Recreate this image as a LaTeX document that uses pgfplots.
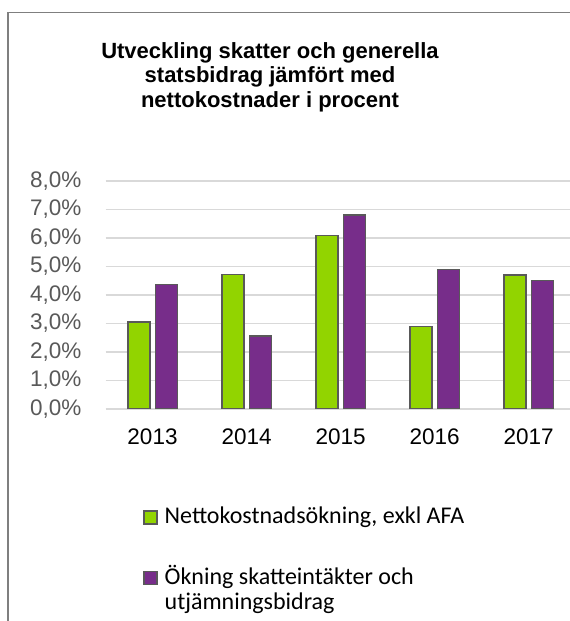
\documentclass[border=0pt]{standalone}
\usepackage{pgfplots}
\pgfplotsset{compat=1.18}
\usepackage{fontspec}
\setmainfont{Liberation Sans}
\newfontfamily\calibri{Carlito}
\definecolor{bargreen}{HTML}{92D400}
\definecolor{barpurple}{HTML}{772D8A}
\definecolor{baredge}{HTML}{595959}
\definecolor{gridgray}{HTML}{D9D9D9}
\definecolor{ticktext}{HTML}{595959}
\definecolor{framegray}{HTML}{7F7F7F}
\begin{document}
\begin{tikzpicture}[x=1bp,y=1bp]
\useasboundingbox (0,0) rectangle (570,621);
\draw[framegray, line width=1.3bp] (8,-2) -- (8,608.5) -- (572,608.5);
\node[font=\fontsize{22bp}{24.5bp}\selectfont\bfseries, align=center, anchor=north, inner sep=0pt] at (270,579)
  {Utveckling skatter och generella\\statsbidrag jämfört med\\nettokostnader i procent};
\begin{axis}[
  at={(105.5bp,212bp)}, anchor=south west,
  scale only axis, width=464.5bp, height=228bp,
  xmin=-0.5, xmax=4.44, ymin=0, ymax=8,
  ybar=5.5bp, bar width=22bp,
  axis line style={draw=none},
  major tick length=0pt,
  ymajorgrids,
  major grid style={gridgray, line width=1.3bp},
  xtick={0,1,2,3,4},
  xticklabels={2013,2014,2015,2016,2017},
  ytick={0,1,2,3,4,5,6,7,8},
  yticklabels={{0,0\%},{1,0\%},{2,0\%},{3,0\%},{4,0\%},{5,0\%},{6,0\%},{7,0\%},{8,0\%}},
  yticklabel style={font=\fontsize{22.5bp}{24bp}\selectfont, text=ticktext, inner sep=0pt, anchor=east, xshift=-24bp},
  xticklabel style={font=\fontsize{22.5bp}{24bp}\selectfont, text=black, inner sep=0pt, anchor=north, yshift=-20bp},
  every axis plot/.append style={draw=baredge, line width=1.5bp},
  legend image code/.code={\draw[#1] (0bp,0bp) rectangle (13bp,13bp);},
  legend style={at={(0.0807,-0.421)}, anchor=north west, draw=none, fill=none,
    font=\calibri\fontsize{24bp}{25bp}\selectfont, inner sep=0pt,
    row sep=36bp,
    cells={anchor=base west, inner sep=0pt},
    /tikz/every odd column/.style={column sep=5bp}},
]
\addplot[fill=bargreen] coordinates {(0,3.05) (1,4.72) (2,6.09) (3,2.89) (4,4.70)};
\addlegendentry{Nettokostnadsökning, exkl AFA}
\addplot[fill=barpurple] coordinates {(0,4.37) (1,2.57) (2,6.80) (3,4.89) (4,4.50)};
\addlegendentry{\vtop{\hbox{Ökning skatteintäkter och}\hbox{utjämningsbidrag}}}
\end{axis}
\end{tikzpicture}
\end{document}
